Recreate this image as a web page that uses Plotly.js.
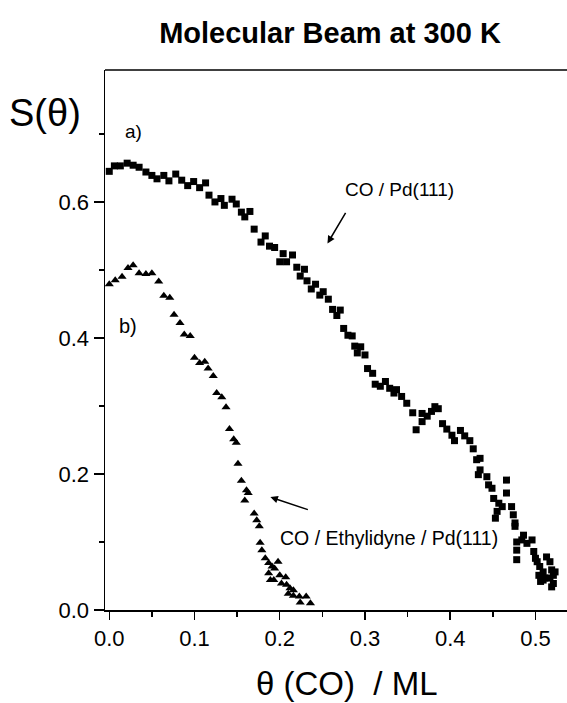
<!DOCTYPE html>
<html>
<head>
<meta charset="utf-8">
<script src="https://cdn.plot.ly/plotly-3.0.1.min.js"></script>
<style>html,body{margin:0;padding:0;background:#fff;overflow:hidden;}</style>
</head>
<body>
<div id="chart" style="width:567px;height:703px;"></div>
<script>
// Series a) CO / Pd(111)
const coverageA = [0.000,0.006,0.013,0.021,0.028,0.035,0.043,0.050,0.056,0.064,0.070,0.078,0.085,0.092,0.099,0.106,0.113,0.117,0.124,0.131,0.135,0.144,0.149,0.155,0.159,0.165,0.170,0.178,0.183,0.188,0.194,0.204,0.215,0.200,0.208,0.220,0.229,0.224,0.232,0.242,0.237,0.251,0.247,0.257,0.262,0.271,0.267,0.275,0.280,0.285,0.288,0.295,0.291,0.300,0.303,0.309,0.312,0.318,0.324,0.329,0.334,0.337,0.343,0.349,0.356,0.367,0.373,0.378,0.382,0.386,0.367,0.360,0.391,0.396,0.402,0.405,0.412,0.417,0.423,0.427,0.435,0.431,0.435,0.433,0.443,0.445,0.449,0.466,0.466,0.451,0.457,0.461,0.455,0.453,0.472,0.474,0.476,0.476,0.486,0.484,0.490,0.496,0.478,0.478,0.478,0.498,0.500,0.502,0.505,0.509,0.504,0.506,0.513,0.517,0.519,0.521,0.511,0.517,0.521,0.523,0.519,0.509];
const stickingA = [0.645,0.653,0.653,0.657,0.654,0.651,0.644,0.639,0.634,0.639,0.631,0.641,0.632,0.624,0.630,0.621,0.628,0.610,0.600,0.605,0.595,0.604,0.597,0.585,0.578,0.586,0.560,0.541,0.550,0.535,0.533,0.524,0.522,0.512,0.512,0.504,0.501,0.491,0.484,0.479,0.472,0.468,0.463,0.457,0.442,0.441,0.433,0.414,0.404,0.403,0.388,0.387,0.378,0.375,0.355,0.348,0.332,0.329,0.336,0.326,0.319,0.324,0.314,0.304,0.290,0.289,0.285,0.292,0.299,0.296,0.277,0.265,0.274,0.266,0.257,0.249,0.264,0.256,0.249,0.237,0.223,0.221,0.206,0.199,0.196,0.184,0.179,0.191,0.172,0.164,0.157,0.152,0.145,0.135,0.152,0.140,0.128,0.123,0.110,0.103,0.098,0.103,0.100,0.088,0.074,0.086,0.076,0.071,0.064,0.056,0.051,0.042,0.078,0.071,0.059,0.051,0.047,0.047,0.039,0.056,0.034,0.044];

// Series b) CO / Ethylidyne / Pd(111)
const coverageB = [0.000,0.007,0.015,0.022,0.028,0.035,0.043,0.050,0.058,0.064,0.071,0.076,0.083,0.088,0.095,0.100,0.106,0.112,0.116,0.122,0.126,0.132,0.137,0.141,0.146,0.149,0.151,0.155,0.161,0.163,0.159,0.170,0.173,0.176,0.177,0.179,0.183,0.187,0.191,0.198,0.194,0.187,0.189,0.193,0.200,0.207,0.202,0.208,0.212,0.216,0.210,0.216,0.223,0.224,0.231,0.236];
const stickingB = [0.479,0.485,0.490,0.503,0.507,0.495,0.494,0.495,0.483,0.462,0.459,0.434,0.422,0.405,0.403,0.371,0.363,0.365,0.355,0.344,0.319,0.313,0.298,0.266,0.251,0.246,0.215,0.190,0.176,0.172,0.161,0.142,0.132,0.123,0.099,0.088,0.076,0.069,0.064,0.071,0.061,0.054,0.044,0.044,0.051,0.048,0.039,0.037,0.032,0.029,0.024,0.021,0.020,0.011,0.020,0.010];

const xTickVals = [0.0,0.1,0.2,0.3,0.4,0.5];
const xTickText = ['0.0','0.1','0.2','0.3','0.4','0.5'];
const yTickVals = [0.0,0.2,0.4,0.6];
const yTickText = ['0.0','0.2','0.4','0.6'];

const FONT = 'Liberation Sans, Arial, Helvetica, sans-serif';

const traces = [
  {x: coverageA, y: stickingA, type: 'scatter', mode: 'markers', name: 'CO / Pd(111)',
   marker: {symbol: 'square', size: 7, color: '#000'}, cliponaxis: false},
  {x: coverageB, y: stickingB, type: 'scatter', mode: 'markers', name: 'CO / Ethylidyne / Pd(111)',
   marker: {symbol: 'triangle-up', size: 8, color: '#000'}, cliponaxis: false}
];

const layout = {
  width: 567, height: 703,
  margin: {l: 105, r: 0, t: 70, b: 93},
  paper_bgcolor: '#fff', plot_bgcolor: '#fff',
  showlegend: false,
  font: {family: FONT, color: '#000', size: 20},
  title: {text: '<b>Molecular Beam at 300 K</b>', font: {family: FONT, size: 29, color: '#000'},
          x: 0.582, xref: 'container', xanchor: 'center', y: 0.953, yref: 'container', yanchor: 'middle'},
  xaxis: {range: [-0.005, 0.537], showgrid: false, zeroline: false, showline: true, linecolor: '#000', linewidth: 1.5,
          ticks: 'outside', ticklen: 8, tickwidth: 1.5, tickcolor: '#000',
          tickvals: xTickVals, ticktext: xTickText, tickfont: {size: 22, family: FONT},
          minor: {dtick: 0.05, tick0: 0, ticks: 'outside', ticklen: 5, tickwidth: 1.5, tickcolor: '#000', showgrid: false}},
  yaxis: {range: [0, 0.794], showgrid: false, zeroline: false, showline: true, linecolor: '#000', linewidth: 1.5,
          ticks: 'outside', ticklen: 10, tickwidth: 1.5, tickcolor: '#000',
          tickvals: yTickVals, ticktext: yTickText, tickfont: {size: 22, family: FONT},
          minor: {dtick: 0.1, tick0: 0, ticks: 'outside', ticklen: 5, tickwidth: 1.5, tickcolor: '#000', showgrid: false}},
  shapes: [
    {type: 'line', xref: 'paper', yref: 'paper', x0: 0, x1: 1, y0: 1, y1: 1, line: {color: '#000', width: 1.5}},
    {type: 'line', xref: 'paper', yref: 'paper', x0: -0.022, x1: 0, y0: 0, y1: 0, line: {color: '#000', width: 1.5}}
  ],
  annotations: [
    {xref: 'paper', yref: 'paper', x: -0.13, y: 0.92, text: 'S(θ)', showarrow: false,
     font: {size: 38, family: FONT}, xanchor: 'center', yanchor: 'middle'},
    {xref: 'paper', yref: 'paper', x: 0.524, y: -0.136, text: 'θ (CO)\u00a0\u00a0/ ML', showarrow: false,
     font: {size: 33, family: FONT}, xanchor: 'center', yanchor: 'middle'},
    {x: 0.029, y: 0.703, text: 'a)', showarrow: false, font: {size: 19, family: FONT}},
    {x: 0.022, y: 0.418, text: 'b)', showarrow: false, font: {size: 20, family: FONT}},
    {x: 0.340, y: 0.618, text: 'CO / Pd(111)', showarrow: false, font: {size: 19, family: FONT}},
    {x: 0.328, y: 0.106, text: 'CO / Ethylidyne / Pd(111)', showarrow: false, font: {size: 19.5, family: FONT}},
    {x: 0.256, y: 0.539, text: '', showarrow: true, arrowhead: 2, arrowsize: 1, arrowwidth: 1.5, arrowcolor: '#000',
     ax: 19, ay: -32},
    {x: 0.189, y: 0.166, text: '', showarrow: true, arrowhead: 2, arrowsize: 1, arrowwidth: 1.5, arrowcolor: '#000',
     ax: 39, ay: 13}
  ]
};

Plotly.newPlot('chart', traces, layout, {displayModeBar: false, staticPlot: true});
</script>
</body>
</html>
